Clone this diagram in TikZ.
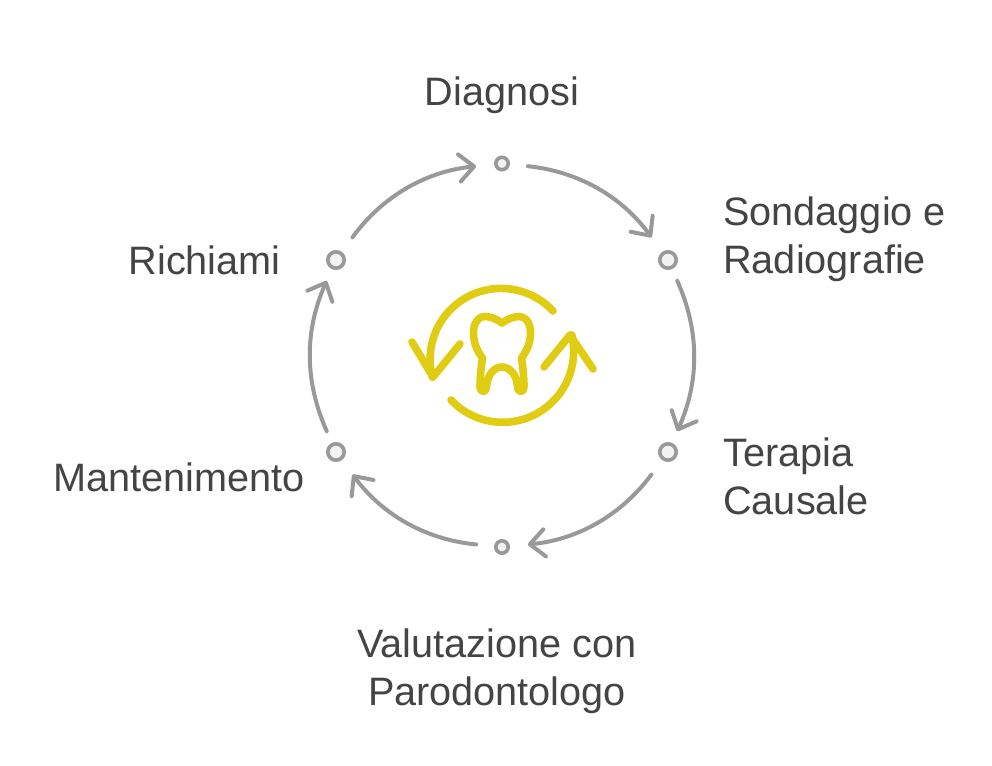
\documentclass[tikz,border=0pt]{standalone}
\usepackage{fontspec}
\setmainfont{Liberation Sans}
\usetikzlibrary{arrows.meta}
\definecolor{ringgray}{HTML}{999999}
\definecolor{dotfill}{HTML}{F2F2F2}
\definecolor{labelgray}{HTML}{444444}
\definecolor{iconyellow}{HTML}{E0CC12}
\tikzset{
	smalldot/.style={circle, draw=ringgray, fill=dotfill, line width=0.09cm, inner sep=0pt, minimum size=0.31cm},
	bigdot/.style={smalldot, minimum size=0.41cm},
	stagelabel/.style={text=labelgray, font=\fontsize{28.2}{34}\selectfont, inner sep=0pt, align=left},
	ringarrow/.style={draw=ringgray, line width=0.1cm, line cap=round, bend left=24, -{Straight Barb[length=0.37cm, width=0.68cm, line width=0.1cm, round]}},
	iconline/.style={draw=iconyellow, line width=0.19cm, line cap=round, line join=round}
}

\begin{document}
\begin{tikzpicture}[x=0.025cm, y=-0.025cm]
	\useasboundingbox (0, 0) rectangle (992, 766);

	% stages
	\node[smalldot] (diagnosi) at (502, 163.5) {};
	\node[bigdot] (sondaggio) at (668, 260) {};
	\node[bigdot] (terapia) at (668, 452) {};
	\node[smalldot] (valutazione) at (502, 547) {};
	\node[bigdot] (mantenimento) at (336, 452) {};
	\node[bigdot] (richiami) at (336, 260) {};

	% labels
	\node[stagelabel] (diagnosilabel) at (502, 95) {Diagnosi};
	\node[stagelabel, anchor=west] (sondaggiolabel) at (723, 239) {Sondaggio e\\Radiografie};
	\node[stagelabel, anchor=west] (terapialabel) at (723, 476) {Terapia\\Causale};
	\node[stagelabel, align=center] (valutazionelabel) at (497, 671) {Valutazione con\\Parodontologo};
	\node[stagelabel, anchor=east] (mantenimentolabel) at (305, 477) {Mantenimento};
	\node[stagelabel, anchor=east] (richiamilabel) at (281, 260) {Richiami};

	% ring
	\draw[ringarrow, shorten <=0.45cm, shorten >=0.45cm] (diagnosi) to (sondaggio);
	\draw[ringarrow, shorten <=0.32cm, shorten >=0.32cm] (sondaggio) to (terapia);
	\draw[ringarrow, shorten <=0.45cm, shorten >=0.45cm] (terapia) to (valutazione);
	\draw[ringarrow, shorten <=0.45cm, shorten >=0.45cm] (valutazione) to (mantenimento);
	\draw[ringarrow, shorten <=0.32cm, shorten >=0.32cm] (mantenimento) to (richiami);
	\draw[ringarrow, shorten <=0.45cm, shorten >=0.45cm] (richiami) to (diagnosi);

	% turning arrows
	\draw[iconline] (553, 311) arc (-43:-194.6:71);
	\draw[iconline] (412, 342) -- (433, 377) -- (460, 344);
	\draw[iconline] (451, 400) arc (136.7:-13.4:71);
	\draw[iconline] (544, 367) -- (570, 335) -- (593, 369);

	% tooth
	\draw[iconline] (502, 323)
		.. controls (495, 318) and (489, 316.5) .. (485, 316.5)
		.. controls (476, 317) and (473.5, 326) .. (473.5, 333)
		.. controls (473.5, 344) and (478, 352) .. (482.5, 358)
		.. controls (481, 368) and (480, 378) .. (480, 387)
		.. controls (480, 393) and (486.5, 393) .. (486.5, 387)
		.. controls (487, 375) and (494, 367) .. (502, 367)
		.. controls (510, 367) and (517, 375) .. (517.5, 387)
		.. controls (517.5, 393) and (524, 393) .. (524, 387)
		.. controls (524, 378) and (523, 368) .. (521.5, 358)
		.. controls (526, 352) and (530.5, 344) .. (530.5, 333)
		.. controls (530.5, 326) and (528, 317) .. (519, 316.5)
		.. controls (515, 316.5) and (509, 318) .. cycle;
\end{tikzpicture}
\end{document}
